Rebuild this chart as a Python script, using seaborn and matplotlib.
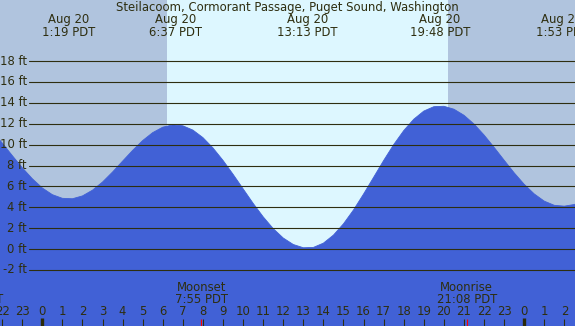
import pandas as pd
import matplotlib
matplotlib.use("Agg")
import matplotlib.pyplot as plt
import seaborn as sns

# tide height (ft), hours from midnight Aug 20 (PDT)
hours = [-2.5, -2.0, -1.5, -1.0, -0.5, 0.0, 0.5, 1.0, 1.5, 2.0,
         2.5, 3.0, 3.5, 4.0, 4.5, 5.0, 5.5, 6.0, 6.5, 7.0,
         7.5, 8.0, 8.5, 9.0, 9.5, 10.0, 10.5, 11.0, 11.5, 12.0,
         12.5, 13.0, 13.5, 14.0, 14.5, 15.0, 15.5, 16.0, 16.5, 17.0,
         17.5, 18.0, 18.5, 19.0, 19.5, 20.0, 20.5, 21.0, 21.5, 22.0,
         22.5, 23.0, 23.5, 24.0, 24.5, 25.0, 25.5, 26.0, 26.5, 27.0]
height_ft = [11.31, 10.16, 8.96, 7.79, 6.74, 5.85, 5.21, 4.86, 4.82, 5.09,
             5.64, 6.42, 7.38, 8.42, 9.45, 10.39, 11.15, 11.67, 11.89, 11.80,
             11.39, 10.67, 9.68, 8.49, 7.16, 5.77, 4.38, 3.09, 1.96, 1.06,
             0.44, 0.13, 0.16, 0.57, 1.34, 2.42, 3.75, 5.27, 6.87, 8.48,
             10.00, 11.34, 12.43, 13.21, 13.63, 13.67, 13.39, 12.81, 11.97, 10.92,
             9.74, 8.51, 7.30, 6.20, 5.28, 4.59, 4.19, 4.11, 4.27, 4.66]

# high / low tide labels along the top
extreme_hours = [1.317, 6.617, 13.217, 19.8, 25.883]
extreme_dates = ["Aug 20", "Aug 20", "Aug 20", "Aug 20", "Aug 21"]
extreme_clock = ["1:19 PDT", "6:37 PDT", "13:13 PDT", "19:48 PDT", "1:53 PDT"]

# moon events along the bottom
moon_hours = [-3.44, 7.917, 21.133]
moon_names = ["Moonrise", "Moonset", "Moonrise"]
moon_clock = ["20:42 PDT", "7:55 PDT", "21:08 PDT"]

sunrise, sunset = 6.195, 20.19
grid_levels = [-2, 0, 2, 4, 6, 8, 10, 12, 14, 16, 18]
hour_ticks = list(range(-2, 27))
midnights = [0, 24]

W, H = 575, 326
x_lo, x_hi = -2.107, 26.53
y_lo, y_hi = -7.36, 23.84

night_col = "#B0C4DE"
day_col = "#DDF7FF"
water_col = "#4161D6"
ink = "#2E2E10"

sns.set_style("white")
plt.rcParams["font.family"] = ["DejaVu Sans"]

df = pd.DataFrame({"hour": hours, "height": height_ft})

fig = plt.figure(figsize=(W / 100, H / 100), dpi=100)
ax = fig.add_axes([0, 0, 1, 1])
ax.set_xlim(x_lo, x_hi)
ax.set_ylim(y_lo, y_hi)
ax.axis("off")

ax.axvspan(x_lo, sunrise, color=night_col, lw=0, zorder=0)
ax.axvspan(sunrise, sunset, color=day_col, lw=0, zorder=0)
ax.axvspan(sunset, x_hi, color=night_col, lw=0, zorder=0)

ax.fill_between(df["hour"], df["height"], y_lo, color=water_col, lw=0, zorder=1)
sns.lineplot(data=df, x="hour", y="height", ax=ax, color=water_col, lw=0.6, zorder=1)

fs = 8.4
for lev in grid_levels:
    ax.axhline(lev, xmin=29 / W, xmax=1, color=ink, lw=0.8, zorder=2)
    ax.text(27 / W, lev, f"{lev} ft", transform=ax.get_yaxis_transform(),
            ha="right", va="center", fontsize=fs, color=ink, zorder=3)


def fy(py):
    # pixel row from the top -> axes fraction
    return 1 - py / H


xt = ax.get_xaxis_transform()
ax.text(0.5, fy(7.3), "Steilacoom, Cormorant Passage, Puget Sound, Washington",
        transform=ax.transAxes, ha="center", va="center", fontsize=fs, color=ink)
for h, d, c in zip(extreme_hours, extreme_dates, extreme_clock):
    ax.text(h, fy(20), d, transform=xt, ha="center", va="center", fontsize=fs, color=ink)
    ax.text(h, fy(32), c, transform=xt, ha="center", va="center", fontsize=fs, color=ink)

for h, n, c in zip(moon_hours, moon_names, moon_clock):
    ax.text(h, fy(287.3), n, transform=xt, ha="center", va="center", fontsize=fs, color=ink)
    ax.text(h, fy(299.3), c, transform=xt, ha="center", va="center", fontsize=fs, color=ink)
    ax.plot([h, h], [fy(319), 0], transform=xt, color="red", lw=0.8, zorder=3,
            solid_capstyle="butt")

for h in hour_ticks:
    ax.text(h, fy(311.7), str(h % 24), transform=xt, ha="center", va="center",
            fontsize=fs, color=ink)
    if h in midnights:
        continue
    ax.plot([h, h], [fy(319), 0], transform=xt, color=ink, lw=0.8, zorder=3,
            solid_capstyle="butt")
for h in midnights:
    ax.plot([h, h], [fy(318), 0], transform=xt, color="#2a2a0a", lw=2.4, zorder=3,
            solid_capstyle="butt")

fig.savefig("out.png", dpi=100)
plt.close(fig)
